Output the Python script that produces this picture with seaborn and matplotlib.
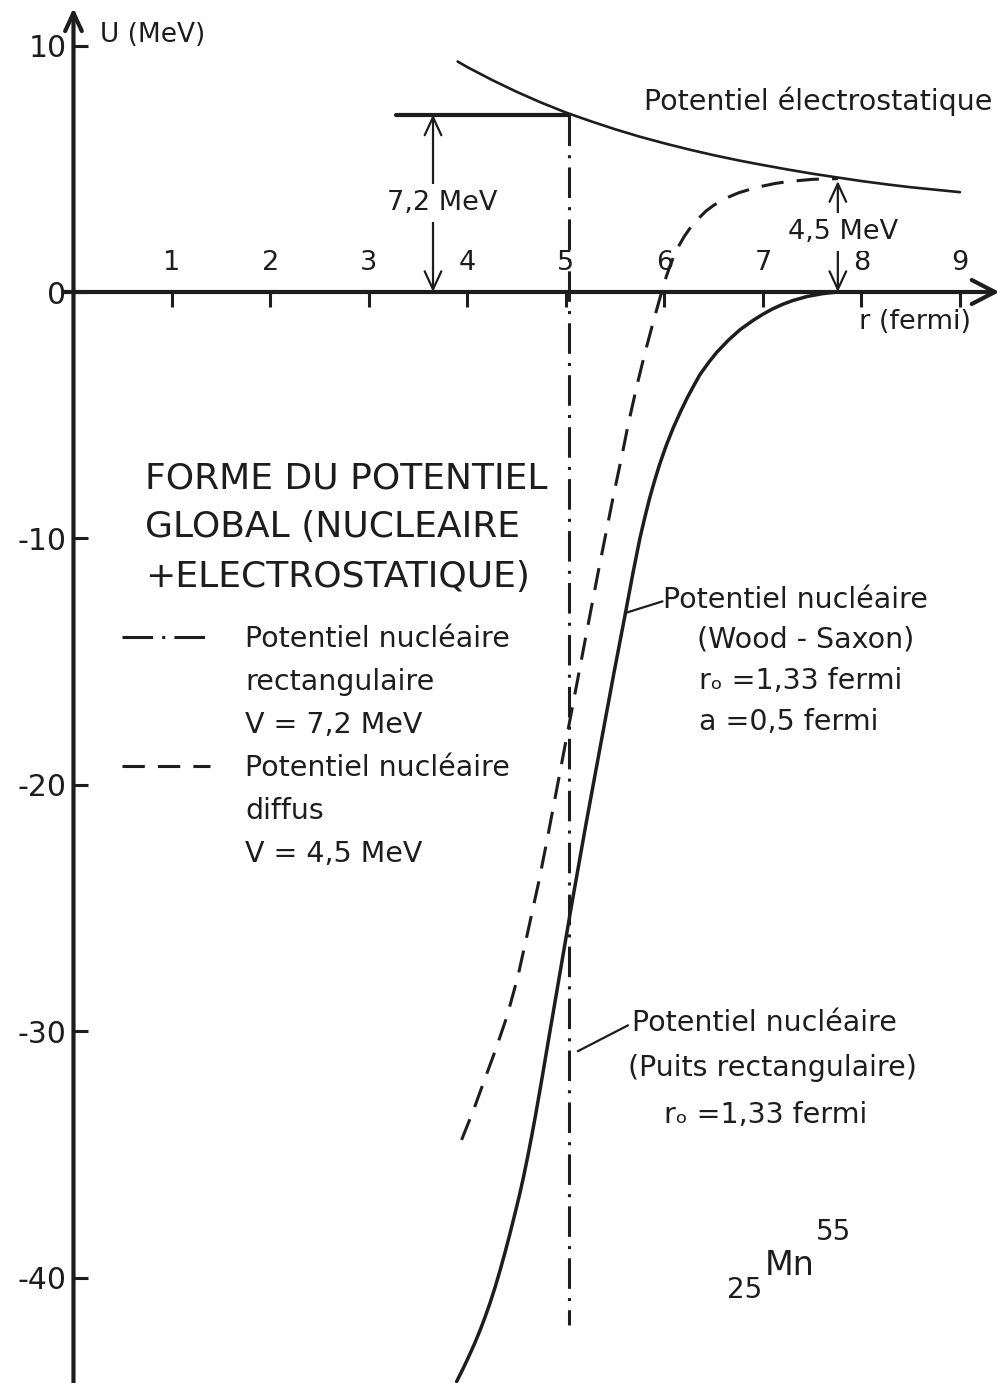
import matplotlib
matplotlib.use("Agg")
import matplotlib.pyplot as plt
from matplotlib.lines import Line2D
import seaborn as sns

# ---------------------------------------------------------------
# Potential energy U (MeV) versus distance r (fermi) for 25Mn55
# ---------------------------------------------------------------

# Electrostatic (Coulomb) potential
r_coulomb = [3.9, 4.0, 4.25, 4.5, 4.75, 5.0, 5.25, 5.5, 5.75, 6.0, 6.25,
             6.5, 6.75, 7.0, 7.25, 7.5, 7.75, 8.0, 8.25, 8.5, 8.75, 9.0]
u_coulomb = [9.35, 9.12, 8.6, 8.12, 7.68, 7.28, 6.93, 6.6, 6.3, 6.03, 5.78,
             5.55, 5.34, 5.15, 4.97, 4.8, 4.65, 4.5, 4.37, 4.25, 4.15, 4.05]

# Diffuse nuclear potential + electrostatic (dashed)
r_diffuse = [3.94, 4.06, 4.16, 4.28, 4.4, 4.51, 4.61, 4.72, 4.8, 4.9, 5.0,
             5.11, 5.21, 5.33, 5.41, 5.48, 5.57, 5.63, 5.72, 5.8, 5.88,
             5.95, 6.02, 6.06, 6.1, 6.15, 6.2, 6.27, 6.35, 6.42, 6.5, 6.62,
             6.75, 6.88, 7.0, 7.12, 7.25, 7.5, 7.76]
u_diffuse = [-34.4, -33.2, -32.1, -30.8, -29.4, -27.8, -26.0, -24.0, -22.4,
             -20.3, -18.2, -15.9, -13.8, -11.3, -9.7, -8.3, -6.6, -5.4,
             -3.8, -2.5, -1.3, -0.3, 0.65, 1.1, 1.5, 1.9, 2.25, 2.65, 3.0,
             3.28, 3.52, 3.8, 4.02, 4.18, 4.3, 4.4, 4.48, 4.57, 4.6]

# Woods-Saxon nuclear potential + electrostatic (solid)
r_woods = [3.89, 3.95, 4.0, 4.07, 4.13, 4.18, 4.23, 4.28, 4.33, 4.38, 4.43,
           4.48, 4.53, 4.57, 4.61, 4.65, 4.69, 4.75, 4.82, 4.94, 5.06, 5.2,
           5.35, 5.48, 5.6, 5.68, 5.75, 5.8, 5.85, 5.9, 5.95, 6.02, 6.09,
           6.16, 6.23, 6.3, 6.36, 6.45, 6.53, 6.65, 6.77, 6.9, 7.0, 7.1,
           7.2, 7.3, 7.45, 7.6, 7.75]
u_woods = [-44.2, -43.72, -43.3, -42.68, -42.1, -41.57, -41.0, -40.38,
           -39.7, -38.98, -38.22, -37.42, -36.6, -35.88, -35.1, -34.28,
           -33.42, -32.05, -30.4, -27.6, -24.8, -21.65, -18.4, -15.6, -13.1,
           -11.4, -10.0, -9.15, -8.35, -7.65, -7.0, -6.2, -5.5, -4.88, -4.3,
           -3.78, -3.35, -2.85, -2.45, -1.95, -1.52, -1.15, -0.9, -0.68,
           -0.5, -0.35, -0.18, -0.07, 0.0]

# Rectangular well (dash-dot) and its barrier top
well_r = [5.03, 5.03]
well_u = [7.2, -41.9]
barrier_r = [3.27, 5.03]
barrier_u = [7.2, 7.2]

# Barrier heights shown with arrows
rect_barrier = 7.2
rect_arrow_r = 3.65
diffuse_barrier = 4.5
diffuse_arrow_r = 7.76

x_ticks = [1, 2, 3, 4, 5, 6, 7, 8, 9]
y_ticks = [10, 0, -10, -20, -30, -40]

title_lines = ["FORME DU POTENTIEL", "GLOBAL (NUCLEAIRE", "+ELECTROSTATIQUE)"]
legend_labels = ["Potentiel nucléaire", "rectangulaire", "V = 7,2 MeV",
                 "Potentiel nucléaire", "diffus", "V = 4,5 MeV"]
woods_labels = ["Potentiel nucléaire", "(Wood - Saxon)", "rₒ =1,33 fermi",
                "a =0,5 fermi"]
well_labels = ["Potentiel nucléaire", "(Puits rectangulaire)",
               "rₒ =1,33 fermi"]

# ---------------------------------------------------------------
sns.set_style("white")
plt.rcParams["font.family"] = ["DejaVu Sans"]
plt.rcParams["axes.unicode_minus"] = False

ink = "#1d1d1d"
dashdot = (0, (10, 3, 1, 3))
dashed = (0, (7.3, 4.3))

fig = plt.figure(figsize=(10.05, 13.83), dpi=100)
ax = fig.add_axes([0, 0, 1, 1])
ax.set_xlim(-0.746, 9.457)
ax.set_ylim(-44.26, 11.846)

# curves
sns.lineplot(x=r_coulomb, y=u_coulomb, ax=ax, color=ink, linewidth=1.9,
             sort=False, estimator=None, legend=False)
sns.lineplot(x=r_diffuse, y=u_diffuse, ax=ax, color=ink, linewidth=2.2,
             linestyle=dashed, sort=False, estimator=None, legend=False)
sns.lineplot(x=r_woods, y=u_woods, ax=ax, color=ink, linewidth=2.5,
             sort=False, estimator=None, legend=False)
sns.lineplot(x=well_r, y=well_u, ax=ax, color=ink, linewidth=2.2,
             linestyle=dashdot, sort=False, estimator=None, legend=False)
sns.lineplot(x=barrier_r, y=barrier_u, ax=ax, color=ink, linewidth=3.0,
             sort=False, estimator=None, legend=False)
ax.set_xlabel("")
ax.set_ylabel("")

# axes through the origin
for side in ["left", "bottom", "top"]:
    ax.spines[side].set_position(("data", 0))
for side in ax.spines:
    ax.spines[side].set_visible(False)

ax.set_xticks(x_ticks, labels=[str(v) for v in x_ticks])
ax.set_yticks(y_ticks, labels=[str(v) for v in y_ticks])
ax.tick_params(axis="x", bottom=True, top=False, labelbottom=False,
               labeltop=True, direction="out", length=10.8, width=2.2,
               pad=1, labelsize=19.5, color=ink, labelcolor=ink)
ax.tick_params(axis="y", left=True, right=False, labelleft=True,
               direction="in", length=11, width=2.2, pad=5,
               labelsize=21.5, color=ink, labelcolor=ink)

# axis lines with open arrow heads
ax.annotate("", xy=(9.4, 0), xytext=(-0.1, 0),
            arrowprops=dict(arrowstyle="->,head_length=0.83,head_width=0.43",
                            lw=3.0, color=ink, shrinkA=0, shrinkB=0,
                            mutation_scale=20))
ax.annotate("", xy=(0, 11.52), xytext=(0, -44.3),
            arrowprops=dict(arrowstyle="->,head_length=0.65,head_width=0.3",
                            lw=3.0, color=ink, shrinkA=0, shrinkB=0,
                            mutation_scale=20))

# barrier height arrows
arrow_style = "<->,head_length=0.65,head_width=0.3"
ax.annotate("", xy=(rect_arrow_r, rect_barrier), xytext=(rect_arrow_r, 0),
            arrowprops=dict(arrowstyle=arrow_style, lw=1.6, color=ink,
                            shrinkA=0, shrinkB=0, mutation_scale=20))
ax.annotate("", xy=(diffuse_arrow_r, diffuse_barrier),
            xytext=(diffuse_arrow_r, 0),
            arrowprops=dict(arrowstyle=arrow_style, lw=1.6, color=ink,
                            shrinkA=0, shrinkB=0, mutation_scale=20))
white_box = dict(facecolor="white", edgecolor="none", pad=4)
ax.text(3.74, 3.61, "7,2 MeV", fontsize=19.5, color=ink, ha="center",
        va="center", bbox=white_box, zorder=6)
ax.text(7.81, 2.43, "4,5 MeV", fontsize=19.5, color=ink, ha="center",
        va="center", bbox=white_box, zorder=6)

# axis titles
ax.text(0.27, 10.43, "U (MeV)", fontsize=19, color=ink, ha="left", va="center")
ax.text(7.97, -1.22, "r (fermi)", fontsize=19.5, color=ink, ha="left",
        va="center")
ax.text(5.79, 7.75, "Potentiel électrostatique", fontsize=20.5, color=ink,
        ha="left", va="center")

# title block
for i, line in enumerate(title_lines):
    ax.text(0.73, -7.55 - 2.0 * i, line, fontsize=26, color=ink, ha="left",
            va="center")

# legend of nuclear potentials
blank = Line2D([], [], color="none")
handles = [Line2D([], [], color=ink, lw=2.2, linestyle=dashdot), blank, blank,
           Line2D([], [], color=ink, lw=2.2, linestyle=dashed), blank, blank]
leg = ax.legend(handles, legend_labels, loc="upper left",
                bbox_to_anchor=(0.492, -13.5), bbox_transform=ax.transData,
                frameon=False, fontsize=20.5, handlelength=3.1,
                handletextpad=1.23, labelspacing=0.53, borderpad=0,
                borderaxespad=0)
for t in leg.get_texts():
    t.set_color(ink)

# Woods-Saxon annotation
ax.annotate("", xy=(5.62, -13.0), xytext=(5.98, -12.55),
            arrowprops=dict(arrowstyle="-", lw=1.6, color=ink,
                            shrinkA=0, shrinkB=0))
woods_pos = [(5.99, -12.5), (6.33, -14.1), (6.35, -15.8), (6.35, -17.45)]
for (x, y), line in zip(woods_pos, woods_labels):
    ax.text(x, y, line, fontsize=20.5, color=ink, ha="left", va="center")

# rectangular well annotation
ax.annotate("", xy=(5.12, -30.8), xytext=(5.63, -29.75),
            arrowprops=dict(arrowstyle="-", lw=1.6, color=ink,
                            shrinkA=0, shrinkB=0))
well_pos = [(5.67, -29.65), (5.63, -31.48), (6.0, -33.39)]
for (x, y), line in zip(well_pos, well_labels):
    ax.text(x, y, line, fontsize=20.5, color=ink, ha="left", va="center")

# nucleus symbol: atomic number, element, mass number
ax.text(6.63, -40.49, "25", fontsize=20, color=ink, ha="left", va="center")
ax.text(7.02, -39.51, "Mn", fontsize=24, color=ink, ha="left", va="center")
ax.text(7.54, -38.13, "55", fontsize=20, color=ink, ha="left", va="center")

fig.savefig("out.png", dpi=100, facecolor="white")
